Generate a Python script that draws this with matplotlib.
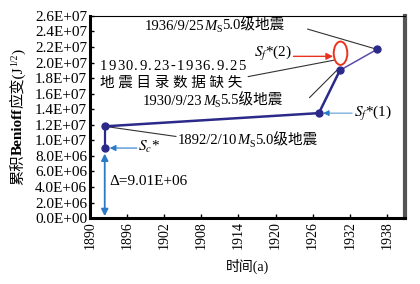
import matplotlib
matplotlib.use("Agg")
import matplotlib.pyplot as plt
from matplotlib.patches import Ellipse
from matplotlib.transforms import IdentityTransform
import numpy as np

plt.rcParams['font.family'] = ['Liberation Serif', 'Noto Sans CJK SC', 'DejaVu Sans']
plt.rcParams['mathtext.fontset'] = 'stix'

# data
years = [1892.4, 1927.0, 1930.4, 1936.4]
benioff = [1.18e7, 1.35e7, 1.90e7, 2.17e7]
sc_year = 1892.4
sc_value = 9.01e6
xticks = [1890, 1896, 1902, 1908, 1914, 1920, 1926, 1932, 1938]
yticks = np.arange(0, 2.6e7 + 1, 2e6)
ytick_labels = ["0.0E+00"] + ["%.1fE+%02d" % (v / 10**int(np.floor(np.log10(v))), int(np.floor(np.log10(v)))) for v in yticks[1:]]

fig = plt.figure(figsize=(4.2, 2.84), dpi=100)
ax = fig.add_axes([0.214, 0.232, 0.75, 0.712])
ax.set_xlim(1890, 1940.9)
ax.set_ylim(0, 2.6e7)
renderer = fig.canvas.get_renderer()


def rich(x, y, pieces, transform, rotation=0, align='left', fontsize=10.5, tracking=0.0):
    """Draw a sequence of (text, props, rise) pieces sharing a baseline."""
    px, py = transform.transform((x, y))
    texts = []
    offs = []
    pos = 0.0
    for s, props, rise in pieces:
        kw = dict(fontsize=fontsize, ha='left', va='baseline',
                  rotation=rotation, rotation_mode='anchor')
        kw.update(props)
        t = fig.text(0, 0, s, transform=IdentityTransform(), **kw)
        bb = t.get_window_extent(renderer=renderer)
        length = bb.height if rotation == 90 else bb.width
        texts.append(t)
        offs.append((pos, rise))
        pos += length + tracking
    shift = -pos / 2 if align == 'center' else 0.0
    for t, (p, rise) in zip(texts, offs):
        if rotation == 90:
            t.set_position((px - rise, py + p + shift))
        else:
            t.set_position((px + p + shift, py + rise))
    return texts


navy = '#2b2a8a'
purple = '#5a4ca8'
blue = '#2a7ac6'
red = '#e8341f'
lead = '#333333'

# main curve
ax.plot([sc_year, years[0]], [sc_value, benioff[0]], color=navy, lw=1.6, zorder=3)
ax.plot(years[:3], benioff[:3], color=navy, lw=1.8, zorder=3)
ax.plot(years[2:], benioff[2:], color=purple, lw=1.1, zorder=3)
ax.plot(years + [sc_year], benioff + [sc_value], 'o', color=navy, ms=5, zorder=4, ls='none')

# Delta double arrow
ax.annotate('', xy=(sc_year, 8.3e6), xytext=(sc_year, 0.25e6),
            arrowprops=dict(arrowstyle='<|-|>', color=blue, lw=1.3, mutation_scale=10,
                            shrinkA=0, shrinkB=0))
ax.text(1893.2, 4.7e6, 'Δ=9.01E+06', fontsize=11, va='center', ha='left')

# Sc* arrow
ax.annotate('', xy=(1893.2, sc_value), xytext=(1897.6, sc_value),
            arrowprops=dict(arrowstyle='-|>', color=blue, lw=0.8, mutation_scale=9,
                            shrinkA=0, shrinkB=0))
ax.text(1897.8, 9.2e6, r'$S_c$*', fontsize=11, va='center', ha='left')

# Sf*(1) arrow
ax.annotate('', xy=(1927.7, 1.35e7), xytext=(1932.4, 1.35e7),
            arrowprops=dict(arrowstyle='-|>', color=blue, lw=0.6, mutation_scale=9,
                            shrinkA=0, shrinkB=0))
ax.text(1932.7, 1.35e7, r'$S_f$*(1)', fontsize=11, va='center', ha='left')

# ellipse and Sf*(2)
ax.add_patch(Ellipse((1930.5, 2.12e7), width=2.2, height=3.0e6, fill=False,
                     edgecolor=red, lw=1.4, zorder=5))
ax.annotate('', xy=(1929.3, 2.08e7), xytext=(1922.9, 2.08e7),
            arrowprops=dict(arrowstyle='-|>', color=red, lw=1.0, mutation_scale=10,
                            shrinkA=0, shrinkB=0))
ax.text(1922.6, 2.12e7, r'$S_f$*(2)', fontsize=11, va='center', ha='right')


# event labels and leaders
def event(x, y, date, mag):
    rich(x, y, [(date, {}, 0), ('M', {'style': 'italic'}, 0),
                ('S', {'fontsize': 7}, -2.5), (mag + '级地震', {}, 0)],
         ax.transData, fontsize=10.5)


event(1898.9, 2.42e7, '1936/9/25', '5.0')
ax.plot([1925.2, years[3]], [2.43e7, benioff[3]], color=lead, lw=0.8, zorder=2)

rich(1891.6, 1.91e7, [(c, {}, 0) for c in '1930.9.23-1936.9.25'],
     ax.transData, fontsize=10.5, tracking=1.3)
ax.text(1891.6, 1.74e7, '地 震 目 录 数 据 缺 失', fontsize=10.5, va='center', ha='left')
ax.plot([1915.6, 1929.4], [1.82e7, 2.03e7], color=lead, lw=0.8, zorder=2)

event(1898.6, 1.46e7, '1930/9/23', '5.5')
ax.plot([1925.5, 1929.9], [1.55e7, 1.90e7], color=lead, lw=0.8, zorder=2)

event(1904.2, 0.95e7, '1892/2/10', '5.0')
ax.plot([years[0], 1903.9], [benioff[0], 1.05e7], color=lead, lw=0.8, zorder=2)

# axes
ax.set_xticks(xticks)
ax.set_xticklabels([str(x) for x in xticks], rotation=90, fontsize=10)
ax.set_yticks(yticks)
ax.set_yticklabels(ytick_labels, fontsize=11)
ax.tick_params(direction='in', length=3, width=1, pad=2)
ax.set_xlabel('时间(a)', fontsize=10, labelpad=7)

# y label built from pieces (CJK + bold Latin + superscript)
rich(22, 167,
     [('累积', {}, 0), ('Benioff', {'fontweight': 'bold'}, 0), ('应变(J', {}, 0),
      ('1/2', {'fontsize': 7}, 5), (')', {}, 0)],
     IdentityTransform(), rotation=90, align='center', fontsize=11)

ax.spines['left'].set_linewidth(2.2)
ax.spines['bottom'].set_linewidth(2.2)
ax.spines['top'].set_linewidth(0.8)
ax.spines['right'].set_linewidth(3)
ax.spines['right'].set_color('#555555')

fig.savefig('out.png', dpi=100)
